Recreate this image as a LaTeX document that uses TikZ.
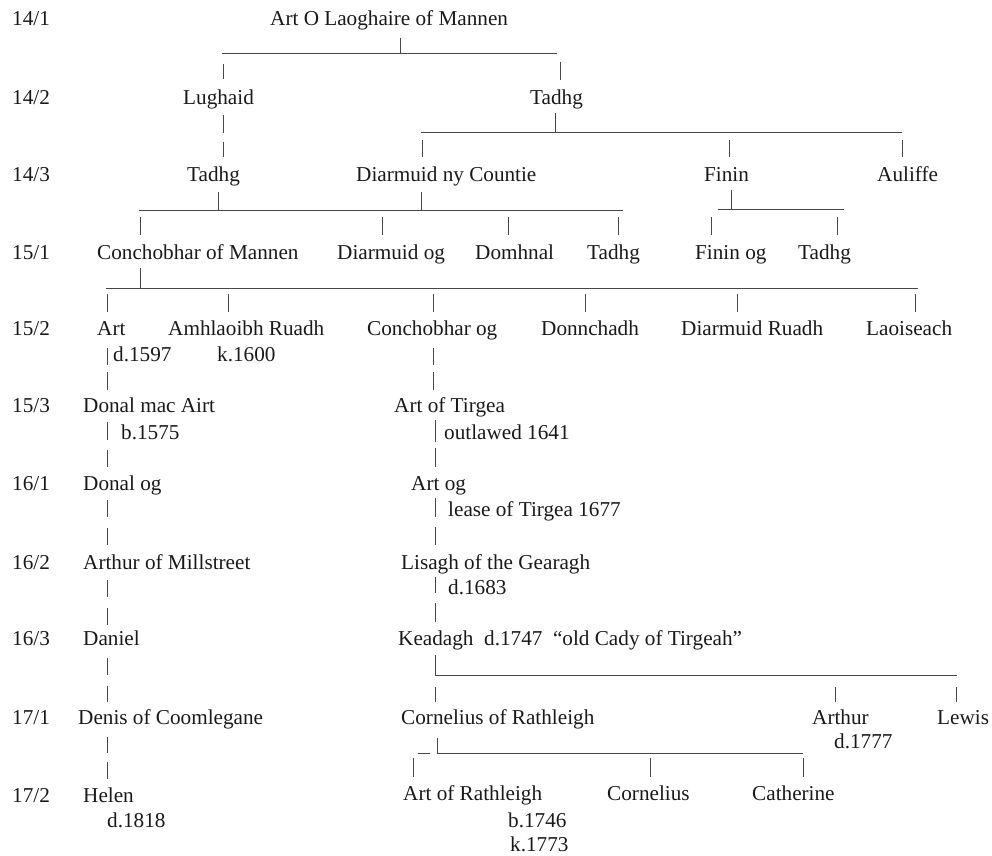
\documentclass[tikz,border=0pt]{standalone}
\usepackage{fontspec}
\setmainfont{Liberation Serif}
\begin{document}
\begin{tikzpicture}[x=1pt,y=-1pt,
  lbl/.style={anchor=base west, inner sep=0pt, font=\fontsize{21.2}{24}\selectfont, text=black!90},
  ln/.style={line width=0.8pt, draw=black!72}]
\useasboundingbox (0,0) rectangle (992,855);
% generation labels
\node[lbl] (g141) at (12,25) {14/1};
\node[lbl] (g142) at (12,104) {14/2};
\node[lbl] (g143) at (12,181) {14/3};
\node[lbl] (g151) at (12,259) {15/1};
\node[lbl] (g152) at (12,335) {15/2};
\node[lbl] (g153) at (12,412) {15/3};
\node[lbl] (g161) at (12,490) {16/1};
\node[lbl] (g162) at (12,569) {16/2};
\node[lbl] (g163) at (12,645) {16/3};
\node[lbl] (g171) at (12,724) {17/1};
\node[lbl] (g172) at (12,802) {17/2};
% names
\node[lbl] (artO) at (270,25) {Art O Laoghaire of Mannen};
\node[lbl] (lughaid) at (183,104) {Lughaid};
\node[lbl] (tadhgA) at (530,104) {Tadhg};
\node[lbl] (tadhgB) at (187,181) {Tadhg};
\node[lbl] (diarmuidNC) at (356,181) {Diarmuid ny Countie};
\node[lbl] (finin) at (704,181) {Finin};
\node[lbl] (auliffe) at (877,181) {Auliffe};
\node[lbl] (conchM) at (97,259) {Conchobhar of Mannen};
\node[lbl] (diarmuidOg) at (337,259) {Diarmuid og};
\node[lbl] (domhnal) at (475,259) {Domhnal};
\node[lbl] (tadhgC) at (587,259) {Tadhg};
\node[lbl] (fininOg) at (695,259) {Finin og};
\node[lbl] (tadhgD) at (798,259) {Tadhg};
\node[lbl] (art) at (97,335) {Art};
\node[lbl] (amhl) at (168,335) {Amhlaoibh Ruadh};
\node[lbl] (conchOg) at (367,335) {Conchobhar og};
\node[lbl] (donnch) at (541,335) {Donnchadh};
\node[lbl] (diarmR) at (681,335) {Diarmuid Ruadh};
\node[lbl] (laois) at (866,335) {Laoiseach};
\node[lbl] (d1597) at (113,361) {d.1597};
\node[lbl] (k1600) at (217,361) {k.1600};
\node[lbl] (donalMA) at (83,412) {Donal mac Airt};
\node[lbl] (b1575) at (121,439) {b.1575};
\node[lbl] (artT) at (394,412) {Art of Tirgea};
\node[lbl] (outl) at (444,439) {outlawed 1641};
\node[lbl] (donalOg) at (83,490) {Donal og};
\node[lbl] (artOg) at (411,490) {Art og};
\node[lbl] (lease) at (448,516) {lease of Tirgea 1677};
\node[lbl] (arthurM) at (83,569) {Arthur of Millstreet};
\node[lbl] (lisagh) at (401,569) {Lisagh of the Gearagh};
\node[lbl] (d1683) at (448,594) {d.1683};
\node[lbl] (daniel) at (83,645) {Daniel};
\node[lbl] (keadagh) at (398,645) {Keadagh\ \ d.1747\ \ “old Cady of Tirgeah”};
\node[lbl] (denis) at (78,724) {Denis of Coomlegane};
\node[lbl] (cornR) at (401,724) {Cornelius of Rathleigh};
\node[lbl] (arthur) at (812,724) {Arthur};
\node[lbl] (lewis) at (937,724) {Lewis};
\node[lbl] (d1777) at (834,748) {d.1777};
\node[lbl] (helen) at (83,802) {Helen};
\node[lbl] (d1818) at (107,827) {d.1818};
\node[lbl] (artR) at (403,800) {Art of Rathleigh};
\node[lbl] (cornelius) at (607,800) {Cornelius};
\node[lbl] (catherine) at (752,800) {Catherine};
\node[lbl] (b1746) at (508,827) {b.1746};
\node[lbl] (k1773) at (510,851) {k.1773};
% connectors (ticks and bars)
\draw[ln] (400,38) -- (400,53);
\draw[ln] (222,53) -- (557,53);
\draw[ln] (223,64) -- (223,79);
\draw[ln] (560,62) -- (560,80);
\draw[ln] (223,115) -- (223,133);
\draw[ln] (223,142) -- (223,157);
\draw[ln] (555,113) -- (555,132);
\draw[ln] (421,132) -- (902,132);
\foreach \x in {422,729,902} \draw[ln] (\x,140) -- (\x,157);
\draw[ln] (218,192) -- (218,210);
\draw[ln] (421,192) -- (421,210);
\draw[ln] (139,210) -- (623,210);
\foreach \x in {140,382,508,618} \draw[ln] (\x,217) -- (\x,235);
\draw[ln] (731,190) -- (731,209);
\draw[ln] (718,209) -- (844,209);
\foreach \x in {711,837} \draw[ln] (\x,217) -- (\x,235);
\draw[ln] (140,268) -- (140,288);
\draw[ln] (106,288) -- (918,288);
\foreach \x in {107,228,433,585,737,915} \draw[ln] (\x,294) -- (\x,312);
\draw[ln] (107,348) -- (107,365);
\draw[ln] (107,372) -- (107,390);
\draw[ln] (433,348) -- (433,365);
\draw[ln] (433,372) -- (433,390);
\foreach \a/\b in {422/440,450/467,500/517,528/545,580/597,608/625,658/675,686/702,737/753,762/779}
  \draw[ln] (107,\a) -- (107,\b);
\foreach \a/\b in {420/442,448/467,498/517,527/545,577/593,603/622}
  \draw[ln] (435,\a) -- (435,\b);
\draw[ln] (435,655) -- (435,675);
\draw[ln] (435,675) -- (957,675);
\foreach \x in {435,835,956} \draw[ln] (\x,687) -- (\x,702);
\draw[ln] (418,753) -- (430,753);
\draw[ln] (437,738) -- (437,753);
\draw[ln] (437,753) -- (803,753);
\foreach \x in {413,650,803} \draw[ln] (\x,758) -- (\x,777);
\end{tikzpicture}
\end{document}
